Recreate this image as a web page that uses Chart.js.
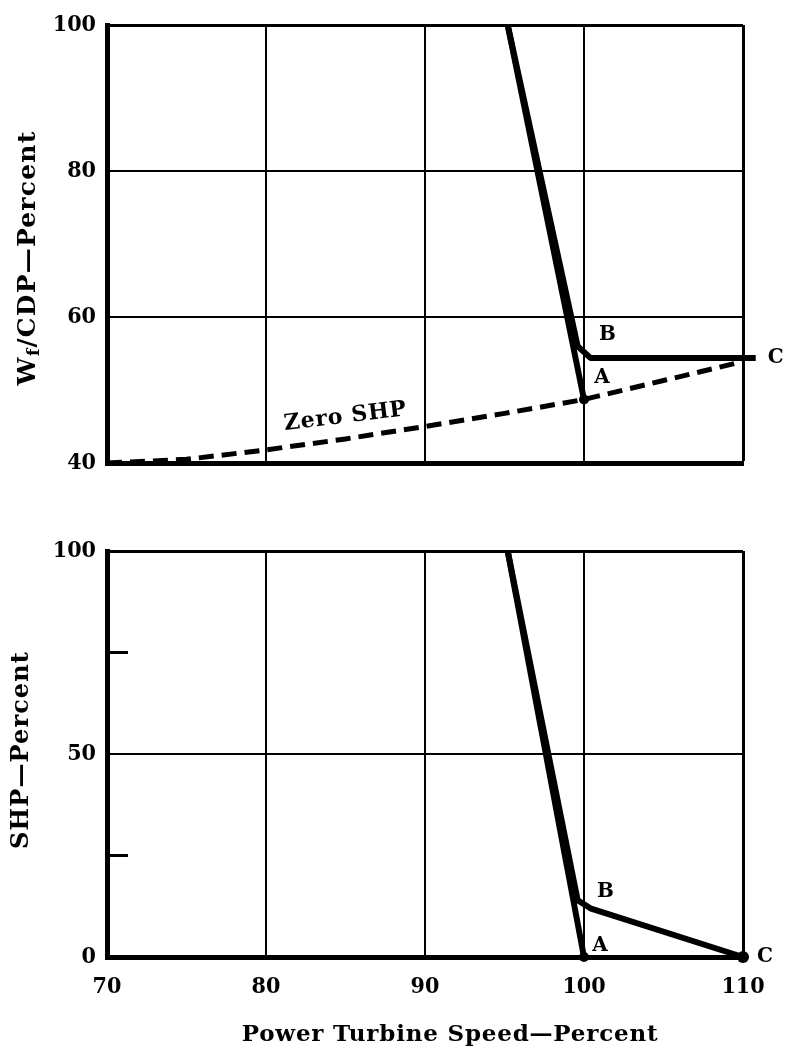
<!DOCTYPE html>
<html>
<head>
<meta charset="utf-8">
<script src="https://cdn.jsdelivr.net/npm/chart.js@4.4.0/dist/chart.umd.min.js"></script>
<style>
  body { margin: 0; background: #fff; }
  #wrap { position: relative; width: 785px; height: 1054px; }
  canvas { position: absolute; left: 0; }
</style>
</head>
<body>
<div id="wrap">
  <canvas id="fuelChart" width="785" height="500" style="top:0"></canvas>
  <canvas id="shpChart" width="785" height="554" style="top:500px"></canvas>
</div>
<script>
// === Data ===
const speedTicks = [70, 80, 90, 100, 110];
const fuelTicks = [40, 60, 80, 100];
const shpTicks = [0, 25, 50, 75, 100];
const shpLabelled = [0, 50, 100];
const shpMinor = [25, 75];

// Wf/CDP, top panel
const speedFuelA = [95.2, 100.0];
const fuelA = [100, 48.7];
const speedFuelB = [95.2, 99.6, 100.4, 110.8];
const fuelB = [100, 56.0, 54.4, 54.4];
const speedZero = [70, 75, 80, 85, 90, 95, 100, 105, 110, 110.6];
const fuelZero = [40, 40.5, 41.8, 43.3, 45.0, 46.8, 48.7, 51.3, 53.9, 54.2];

// SHP, bottom panel
const speedShpA = [95.2, 100.0];
const shpA = [100, 0];
const speedShpB = [95.2, 99.6, 100.4, 110.0];
const shpB = [100, 14, 12, 0];

const DIGITS = "'DejaVu Serif Condensed', 'DejaVu Serif', serif";
const FONT = "'DejaVu Serif', serif";
const INK = "#000";

const zip = (xs, ys) => xs.map((x, i) => ({ x: x, y: ys[i] }));

function drawText(ctx, text, x, y, size, angle, spacing) {
  ctx.save();
  ctx.translate(x, y);
  ctx.rotate(angle || 0);
  ctx.font = "bold " + size + "px " + FONT;
  ctx.letterSpacing = (spacing || 0) + "px";
  ctx.fillStyle = INK;
  ctx.textAlign = "center";
  ctx.textBaseline = "middle";
  ctx.fillText(text, 0, 0);
  ctx.restore();
}

// y title with subscript f
function drawWfTitle(ctx, cx, cy) {
  ctx.save();
  ctx.translate(cx, cy);
  ctx.rotate(-Math.PI / 2);
  ctx.fillStyle = INK;
  ctx.textBaseline = "middle";
  ctx.letterSpacing = "1.2px";
  const big = "bold 25px " + FONT;
  const small = "bold 17px " + FONT;
  ctx.font = big;
  const wW = ctx.measureText("W").width;
  const wRest = ctx.measureText("/CDP\u2014Percent").width;
  ctx.font = small;
  const wF = ctx.measureText("f").width;
  let x = -(wW + wF + wRest) / 2;
  ctx.font = big;
  ctx.fillText("W", x, 0);
  x += wW;
  ctx.font = small;
  ctx.fillText("f", x, 7);
  x += wF;
  ctx.font = big;
  ctx.fillText("/CDP\u2014Percent", x, 0);
  ctx.restore();
}

function xAxis(height, showLabels) {
  return {
    type: "linear",
    min: 70,
    max: 110,
    afterBuildTicks: (s) => { s.ticks = speedTicks.map((v) => ({ value: v })); },
    afterFit: (s) => { s.height = height; },
    border: { display: true, color: INK, width: 5 },
    grid: {
      color: INK,
      lineWidth: (c) => (c.tick && c.tick.value === 110 ? 3 : 2),
      drawTicks: false,
    },
    ticks: {
      display: showLabels,
      color: INK,
      padding: 16,
      font: { family: DIGITS, size: 23, weight: "bold" },
    },
  };
}

function yAxis(min, max, ticks, labelled) {
  return {
    type: "linear",
    min: min,
    max: max,
    afterBuildTicks: (s) => { s.ticks = ticks.map((v) => ({ value: v })); },
    afterFit: (s) => { s.width = 107; },
    border: { display: true, color: INK, width: 5 },
    grid: {
      color: (c) => (labelled.includes(c.tick.value) ? INK : "rgba(0,0,0,0)"),
      lineWidth: (c) => (c.tick && c.tick.value === max ? 3 : 2),
      drawTicks: false,
    },
    ticks: {
      color: INK,
      padding: 11,
      font: { family: DIGITS, size: 23, weight: "bold" },
      callback: (v) => (labelled.includes(v) ? String(v) : ""),
    },
  };
}

function curve(xs, ys, radii, dash) {
  return {
    data: zip(xs, ys),
    showLine: true,
    borderColor: INK,
    backgroundColor: INK,
    borderWidth: dash ? 5 : 6,
    borderDash: dash || [],
    borderJoinStyle: "round",
    pointRadius: radii,
    pointBorderWidth: 0,
    clip: false,
  };
}

// === Top panel: Wf/CDP ===
const fuelLabels = {
  id: "fuelLabels",
  afterDatasetsDraw(chart) {
    const { ctx, scales } = chart;
    const px = (v) => scales.x.getPixelForValue(v);
    const py = (v) => scales.y.getPixelForValue(v);
    drawText(ctx, "B", px(speedFuelB[2]) + 17, py(fuelB[2]) - 23, 20);
    drawText(ctx, "A", px(speedFuelA[1]) + 18, py(fuelA[1]) - 22, 20);
    drawText(ctx, "C", px(speedFuelB[3]) + 20, py(fuelB[3]), 20);
    drawText(ctx, "Zero SHP", px(speedZero[3]), py(fuelZero[3]) - 22, 22, -0.12, 0.8);
    drawWfTitle(ctx, 28, 258);
  },
};

new Chart(document.getElementById("fuelChart"), {
  type: "scatter",
  data: {
    datasets: [
      curve(speedFuelA, fuelA, [0, 5]),
      curve(speedFuelB, fuelB, [0, 0, 0, 6]),
      curve(speedZero, fuelZero, 0, [15, 8]),
    ],
  },
  options: {
    responsive: false,
    animation: false,
    layout: { padding: { left: 0, right: 42, top: 25, bottom: 37 } },
    scales: {
      x: xAxis(0, false),
      y: yAxis(40, 100, fuelTicks, fuelTicks),
    },
    plugins: { legend: { display: false }, tooltip: { enabled: false } },
  },
  plugins: [fuelLabels],
});

// === Bottom panel: SHP ===
const shpLabels = {
  id: "shpLabels",
  afterDatasetsDraw(chart) {
    const { ctx, scales, chartArea } = chart;
    const px = (v) => scales.x.getPixelForValue(v);
    const py = (v) => scales.y.getPixelForValue(v);
    // short inside ticks at 25 / 75
    ctx.save();
    ctx.strokeStyle = INK;
    ctx.lineWidth = 3;
    shpMinor.forEach((v) => {
      ctx.beginPath();
      ctx.moveTo(chartArea.left, py(v));
      ctx.lineTo(chartArea.left + 21, py(v));
      ctx.stroke();
    });
    ctx.restore();
    drawText(ctx, "B", px(speedShpB[2]) + 15, py(shpB[2]) - 16, 20);
    drawText(ctx, "A", px(speedShpA[1]) + 16, py(shpA[1]) - 11, 20);
    drawText(ctx, "C", px(speedShpB[3]) + 22, py(shpB[3]), 20);
    drawText(ctx, "SHP\u2014Percent", 22, 250, 24, -Math.PI / 2, 1.1);
    drawText(ctx, "Power Turbine Speed\u2014Percent", 450, 535, 23, 0, 0.8);
  },
};

new Chart(document.getElementById("shpChart"), {
  type: "scatter",
  data: {
    datasets: [
      curve(speedShpA, shpA, [0, 5]),
      curve(speedShpB, shpB, [0, 0, 0, 6]),
    ],
  },
  options: {
    responsive: false,
    animation: false,
    layout: { padding: { left: 0, right: 42, top: 51, bottom: 57 } },
    scales: {
      x: xAxis(40, true),
      y: yAxis(0, 100, shpTicks, shpLabelled),
    },
    plugins: { legend: { display: false }, tooltip: { enabled: false } },
  },
  plugins: [shpLabels],
});
</script>
</body>
</html>
